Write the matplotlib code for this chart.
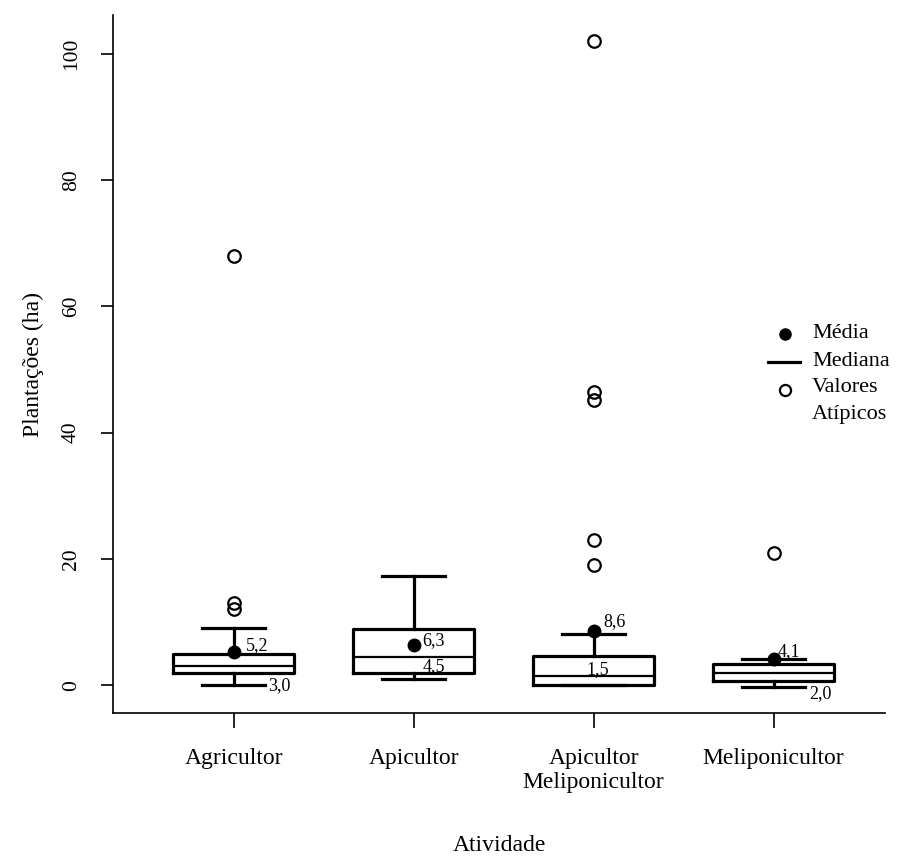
import matplotlib
matplotlib.use("Agg")
import matplotlib.pyplot as plt
from matplotlib.lines import Line2D

plt.rcParams["font.family"] = ["Liberation Serif", "DejaVu Serif"]

# planted area (ha) per activity group
groups = ["Agricultor", "Apicultor", "Apicultor\nMeliponicultor", "Meliponicultor"]
whisker_low = [0.0, 1.0, 0.0, -0.3]
q1 = [2.0, 2.0, 0.0, 0.7]
median = [3.0, 4.5, 1.5, 2.0]
q3 = [5.0, 8.9, 4.7, 3.4]
whisker_high = [9.0, 17.3, 8.1, 4.1]
mean = [5.2, 6.3, 8.6, 4.1]
outliers = [[12.0, 13.0, 68.0], [], [19.0, 23.0, 45.2, 46.4, 102.0], [21.0]]

# where the mean / median numbers are written (offset from box centre, y in data units)
mean_lbl_dx = [0.07, 0.05, 0.055, 0.02]
mean_lbl_y = [6.3, 7.1, 10.0, 5.3]
med_lbl_dx = [0.19, 0.05, 0.02, 0.2]
med_lbl_ha = ["left", "left", "center", "left"]
med_lbl_y = [0.0, 3.0, 2.4, -1.3]

stats = []
for i in range(len(groups)):
    stats.append(dict(whislo=whisker_low[i], q1=q1[i], med=median[i], q3=q3[i],
                      whishi=whisker_high[i], mean=mean[i], fliers=outliers[i],
                      label=groups[i]))

fig = plt.figure(figsize=(9, 8.58), dpi=100)
ax = fig.add_axes([0.1256, 0.169, 0.858, 0.8135])

lw = 2.3
ax.bxp(stats, positions=[1, 2, 3, 4], widths=0.67, capwidths=0.35,
       showmeans=True, showfliers=True,
       boxprops=dict(color="black", linewidth=lw),
       whiskerprops=dict(color="black", linewidth=lw),
       capprops=dict(color="black", linewidth=lw),
       medianprops=dict(color="black", linewidth=1.6),
       meanprops=dict(marker="o", markerfacecolor="black", markeredgecolor="black",
                      markersize=9),
       flierprops=dict(marker="o", markerfacecolor="none", markeredgecolor="black",
                       markersize=9, markeredgewidth=1.6))

for i in range(len(groups)):
    x = i + 1
    ax.text(x + mean_lbl_dx[i], mean_lbl_y[i], f"{mean[i]:.1f}".replace(".", ","),
            fontsize=13, ha="left", va="center")
    ax.text(x + med_lbl_dx[i], med_lbl_y[i], f"{median[i]:.1f}".replace(".", ","),
            fontsize=13, ha=med_lbl_ha[i], va="center")

ax.set_xlim(0.33, 4.62)
ax.set_ylim(-4.4, 106.1)
ax.set_yticks([0, 20, 40, 60, 80, 100])
ax.spines["top"].set_visible(False)
ax.spines["right"].set_visible(False)
ax.spines["left"].set_linewidth(1.2)
ax.spines["bottom"].set_linewidth(1.2)
ax.tick_params(axis="y", labelrotation=90, length=9, width=1.2, pad=14, labelsize=15.5)
ax.tick_params(axis="x", length=11, width=1.2, pad=14, labelsize=17)
for lbl in ax.get_yticklabels():
    lbl.set_va("center")

ax.set_ylabel("Plantações (ha)", fontsize=17)
ax.yaxis.set_label_coords(-0.09, 0.5)
ax.set_xlabel("Atividade", fontsize=17)
ax.xaxis.set_label_coords(0.5, -0.175)

# legend drawn by hand so the outlier marker sits on the first text line
def fx(px):
    return px / 900


def fy(py):
    return 1 - py / 858


fig.add_artist(Line2D([fx(785)], [fy(334)], marker="o", color="black", markersize=8,
                      transform=fig.transFigure))
fig.add_artist(Line2D([fx(768), fx(800)], [fy(362), fy(362)], color="black", linewidth=2.3,
                      transform=fig.transFigure))
fig.add_artist(Line2D([fx(785)], [fy(390)], marker="o", markerfacecolor="none",
                      markeredgecolor="black", markersize=8, markeredgewidth=1.6,
                      transform=fig.transFigure))
for label, py in [("Média", 334), ("Mediana", 361), ("Valores", 388), ("Atípicos", 414)]:
    fig.text(fx(812), fy(py), label, fontsize=16, ha="left", va="center")

fig.savefig("out.png", dpi=100)
